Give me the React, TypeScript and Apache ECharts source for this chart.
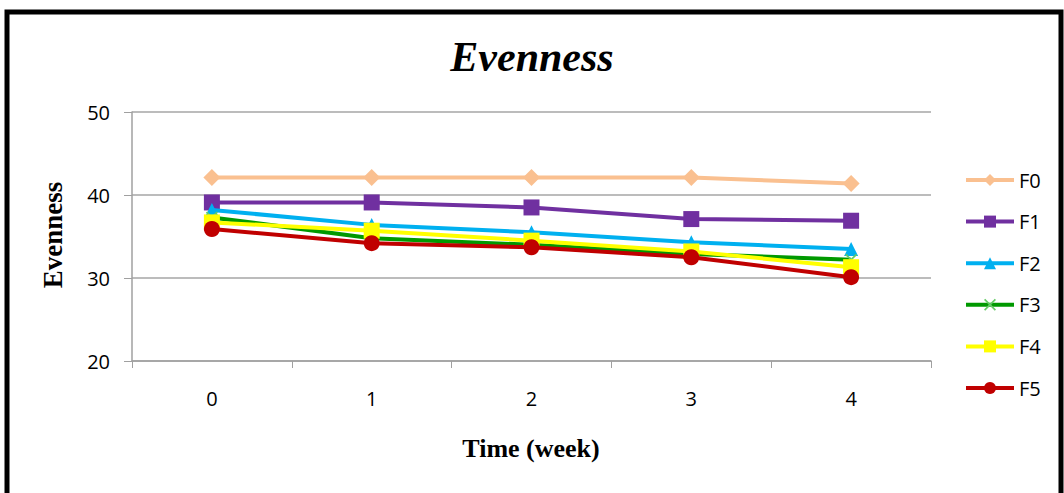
import React, { useEffect, useRef } from "react";
import * as echarts from "echarts";

const weeks = ["0", "1", "2", "3", "4"];
const seriesNames = ["F0", "F1", "F2", "F3", "F4", "F5"];
const f0 = [42.1, 42.1, 42.1, 42.1, 41.4];
const f1 = [39.1, 39.1, 38.5, 37.1, 36.9];
const f2 = [38.2, 36.4, 35.5, 34.3, 33.5];
const f3 = [37.3, 34.8, 34.0, 32.9, 32.2];
const f4 = [36.7, 35.7, 34.5, 33.2, 31.3];
const f5 = [35.9, 34.2, 33.7, 32.5, 30.1];
const yTicks = { min: 20, max: 50, interval: 10 };

const colors = ["#FAC090", "#7030A0", "#00B0F0", "#009900", "#FFFF00", "#C00000"];
const symbols = [
  "diamond",
  "rect",
  "triangle",
  "path://M0,1 L1,0 L5,4 L9,0 L10,1 L6,5 L10,9 L9,10 L5,6 L1,10 L0,9 L4,5 Z",
  "rect",
  "circle",
];
const symbolSizes = [17, 16, 14, 12, 16, 16];
const symbolColors = ["#FAC090", "#7030A0", "#00B0F0", "#66CC66", "#FFFF00", "#C00000"];

export default function App() {
  const ref = useRef<HTMLDivElement>(null);
  useEffect(() => {
    if (!ref.current) return;
    const chart = echarts.init(ref.current, null, { renderer: "svg" });
    const data = [f0, f1, f2, f3, f4, f5];
    const labelFont = "'Open Sans', sans-serif";
    chart.setOption({
      animation: false,
      backgroundColor: "#fff",
      grid: { left: 132, right: 133, top: 112, bottom: 132 },
      legend: {
        orient: "vertical",
        left: 959,
        top: 165,
        itemWidth: 48,
        itemHeight: 15,
        itemGap: 21.6,
        data: seriesNames,
        lineStyle: { width: 4 },
        textStyle: { fontFamily: labelFont, fontSize: 20, color: "#000" },
      },
      xAxis: {
        type: "category",
        data: weeks,
        boundaryGap: true,
        axisLine: { lineStyle: { color: "#A0A0A0", width: 1.5 } },
        axisTick: { show: true, length: 7, inside: false, lineStyle: { color: "#A0A0A0" } },
        axisLabel: { fontFamily: labelFont, fontSize: 20, color: "#000", margin: 27 },
      },
      yAxis: {
        type: "value",
        min: yTicks.min,
        max: yTicks.max,
        interval: yTicks.interval,
        axisLine: { show: true, lineStyle: { color: "#A0A0A0", width: 1.5 } },
        axisTick: { show: true, length: 8, lineStyle: { color: "#A0A0A0" } },
        splitLine: { lineStyle: { color: "#A6A6A6", width: 1.5 } },
        axisLabel: { fontFamily: labelFont, fontSize: 20, color: "#000", margin: 22 },
      },
      series: data.map((d, i) => ({
        name: seriesNames[i],
        type: "line",
        data: d,
        symbol: symbols[i],
        symbolSize: symbolSizes[i],
        showAllSymbol: true,
        lineStyle: { color: colors[i], width: 4 },
        itemStyle: { color: symbolColors[i] },
        z: 2 + i,
      })),
      graphic: [
        {
          type: "rect",
          shape: { x: 7, y: 12, width: 1054, height: 495 },
          style: { fill: "none", stroke: "#000", lineWidth: 5 },
          silent: true,
        },
        {
          type: "text",
          x: 532,
          y: 57,
          style: {
            text: "Evenness",
            fontFamily: "'Liberation Serif', serif",
            fontStyle: "italic",
            fontWeight: "bold",
            fontSize: 42,
            fill: "#000",
            textAlign: "center",
            textVerticalAlign: "middle",
          },
        },
        {
          type: "text",
          x: 53,
          y: 235,
          rotation: Math.PI / 2,
          style: {
            text: "Evenness",
            fontFamily: "'Liberation Serif', serif",
            fontWeight: "bold",
            fontSize: 27,
            fill: "#000",
            textAlign: "center",
            textVerticalAlign: "middle",
          },
        },
        {
          type: "text",
          x: 531,
          y: 448,
          style: {
            text: "Time (week)",
            fontFamily: "'Liberation Serif', serif",
            fontWeight: "bold",
            fontSize: 26,
            fill: "#000",
            textAlign: "center",
            textVerticalAlign: "middle",
          },
        },
      ],
    });
    return () => chart.dispose();
  }, []);
  return (
    <div
      ref={ref}
      style={{ position: "absolute", left: 0, top: 0, width: 1064, height: 493 }}
    />
  );
}
